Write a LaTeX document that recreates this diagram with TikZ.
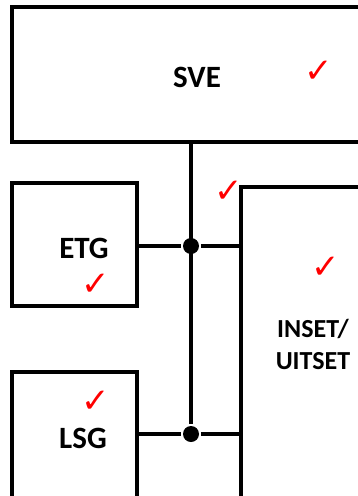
\documentclass[tikz,border=0pt]{standalone}
\usepackage{fontspec}
\setmainfont{Carlito}
\newfontfamily\symfont{DejaVu Sans}
\newcommand{\tick}{{\symfont\fontsize{34}{34}\selectfont\color{red}✓}}
\begin{document}
\begin{tikzpicture}[x=1pt,y=-1pt,line width=3.5pt]

        \clip (0,0) rectangle (358,496);

        \begin{scope}[every node/.style={rectangle,draw,inner sep=0pt}]
          \node (sve)   at (197,74.5)  [minimum width=370pt,minimum height=135pt] {};
          \node (etg)   at (74.5,244.5) [minimum width=125pt,minimum height=123pt] {};
          \node (lsg)   at (74.5,446)  [minimum width=125pt,minimum height=148pt] {};
          \node (inset) at (313,344)   [minimum width=144pt,minimum height=314pt] {};
        \end{scope}

        \begin{scope}[every node/.style={font=\bfseries\fontsize{31}{36}\selectfont}]
          \node (sveText) at (197,77)  {SVE};
          \node (etgText) at (84,248)  {ETG};
          \node (lsgText) at (83,438)  {LSG};
          \node (insetText) at (313,344) [align=center,font=\bfseries\fontsize{26}{32}\selectfont] {INSET/\\UITSET};
        \end{scope}

        \begin{scope}[every node/.style={inner sep=0pt}]
          \node (tick1) at (319,72)  {\tick};
          \node (tick2) at (96,285)  {\tick};
          \node (tick3) at (229,192) {\tick};
          \node (tick4) at (326,268) {\tick};
          \node (tick5) at (96,402)  {\tick};
        \end{scope}

        \begin{scope}[every node/.style={circle,fill,inner sep=0pt,minimum size=16pt}]
          \node (j1) at (191,246) {};
          \node (j2) at (191,434) {};
        \end{scope}

        \draw (sve.south -| j1) -- (j2);
        \draw (j1 -| etg.east) -- (j1) -- (j1 -| inset.west);
        \draw (j2 -| lsg.east) -- (j2) -- (j2 -| inset.west);

      \end{tikzpicture}
\end{document}
